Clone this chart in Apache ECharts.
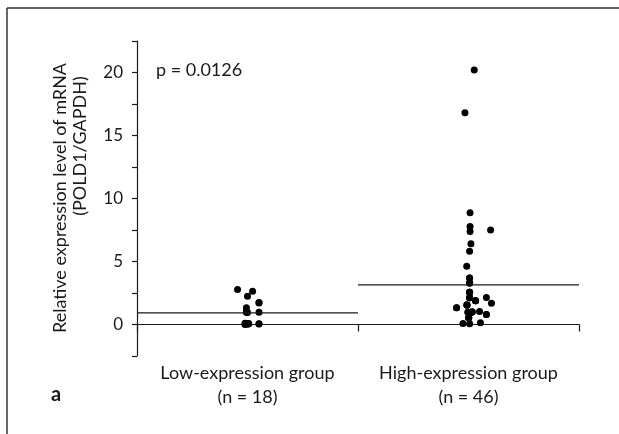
<!DOCTYPE html>
<html>
<head>
<meta charset="utf-8">
<script src="https://cdn.jsdelivr.net/npm/echarts@6/dist/echarts.min.js"></script>
<style>
  html, body { margin: 0; padding: 0; background: #fff; }
  #chart { width: 619px; height: 434px; }
</style>
</head>
<body>
<div id="chart"></div>
<script>
// Group labels shown under the x axis
const categories = ['Low-expression group\n(n = 18)', 'High-expression group\n(n = 46)'];

// Relative POLD1/GAPDH mRNA level per sample, and horizontal jitter
// (fraction of a category band) used to spread overlapping dots
const lowValues = [2.78, 2.64, 2.25, 1.75, 1.7, 1.32, 1.0, 0.98, 0.98, 0.95,
                   0.1, 0.08, 0.05, 0.05, 0.05, 0.04, 0.02, 0.0];
const lowJitter = [-0.045, 0.023, 0.0, 0.052, 0.052, -0.005, -0.005, -0.005, 0.052, 0.0,
                   -0.011, 0.005, -0.011, 0.005, 0.052, 0.052, 0.0, -0.011];

const highValues = [20.2, 16.8, 8.86, 7.78, 7.5, 7.38, 6.4, 5.82, 4.63, 3.7,
                    3.7, 3.3, 3.3, 3.3, 2.55, 2.55, 2.55, 2.14, 2.12, 2.12,
                    2.12, 1.88, 1.88, 1.88, 1.69, 1.55, 1.55, 1.55, 1.32, 1.32,
                    1.03, 1.0, 1.0, 1.0, 1.0, 0.98, 0.98, 0.98, 0.79, 0.79,
                    0.53, 0.53, 0.53, 0.13, 0.08, 0.05];
const highJitter = [0.026, -0.016, 0.007, 0.007, 0.1, 0.007, 0.011, 0.005, -0.008, 0.005,
                    0.005, 0.005, 0.005, 0.005, 0.005, 0.005, 0.005, 0.081, 0.005, 0.005,
                    0.005, 0.032, 0.032, 0.032, 0.104, -0.007, -0.007, -0.007, -0.054, -0.054,
                    0.05, 0.016, 0.016, 0.016, 0.016, -0.002, -0.002, -0.002, 0.081, 0.081,
                    0.001, 0.001, 0.001, 0.054, -0.025, 0.005];

// y axis tick labels (ticks every 2.5, labels every 5)
const yTickLabels = [0, 5, 10, 15, 20];

const yTitle = ['Relative expression level of mRNA', '(POLD1/GAPDH)'];
const pText = 'p = 0.0126';
const panelLetter = 'a';

const mean = arr => arr.reduce((s, v) => s + v, 0) / arr.length;
const toPoints = (vals, jit, centre) => vals.map((v, i) => [centre + jit[i], v]);

const FONT = 'Lato';
const INK = '#1a1a1a';

const chart = echarts.init(document.getElementById('chart'), null, { renderer: 'canvas' });

chart.setOption({
  backgroundColor: '#fff',
  animation: false,
  textStyle: { fontFamily: FONT, color: INK },
  grid: { left: 137, right: 40, top: 41, bottom: 78 },
  xAxis: [
    {
      type: 'category',
      data: categories,
      boundaryGap: true,
      axisLine: { lineStyle: { color: INK, width: 1.2 } },
      axisTick: { show: true, length: 7, lineStyle: { color: INK, width: 1.2 } },
      axisLabel: { interval: 0, hideOverlap: false, color: INK, fontSize: 18, lineHeight: 24, margin: 5, fontFamily: FONT }
    },
    {
      type: 'value', min: 0, max: 2, show: false
    }
  ],
  yAxis: {
    type: 'value',
    min: -2.5,
    max: 22.5,
    interval: 2.5,
    splitLine: { show: false },
    axisLine: { show: true, lineStyle: { color: INK, width: 1.2 } },
    axisTick: { show: true, length: 5, lineStyle: { color: INK, width: 1.2 } },
    axisLabel: {
      color: INK, fontSize: 17, margin: 14, fontFamily: FONT,
      formatter: v => (yTickLabels.includes(v) ? String(v) : '')
    }
  },
  series: [
    {
      type: 'scatter', xAxisIndex: 1,
      data: toPoints(lowValues, lowJitter, 0.5),
      symbol: 'circle', symbolSize: 7,
      itemStyle: { color: '#000', opacity: 1 }
    },
    {
      type: 'scatter', xAxisIndex: 1,
      data: toPoints(highValues, highJitter, 1.5),
      symbol: 'circle', symbolSize: 7,
      itemStyle: { color: '#000', opacity: 1 }
    },
    {
      type: 'line', xAxisIndex: 1, symbol: 'none',
      data: [[0, mean(lowValues)], [1, mean(lowValues)]],
      lineStyle: { color: INK, width: 1.3 }
    },
    {
      type: 'line', xAxisIndex: 1, symbol: 'none',
      data: [[1, mean(highValues)], [2, mean(highValues)]],
      lineStyle: { color: INK, width: 1.3 }
    }
  ],
  graphic: [
    // panel frame (top and left edges)
    { type: 'line', shape: { x1: 7, y1: 8, x2: 619, y2: 8 }, style: { stroke: '#333', lineWidth: 1.5 } },
    { type: 'line', shape: { x1: 7, y1: 8, x2: 7, y2: 434 }, style: { stroke: '#333', lineWidth: 1.5 } },
    // y axis title, two rotated lines
    { type: 'text', x: 60, y: 198, rotation: Math.PI / 2,
      style: { text: yTitle[0], fontSize: 18, fontFamily: FONT, fill: INK, align: 'center', verticalAlign: 'middle' } },
    { type: 'text', x: 80, y: 146, rotation: Math.PI / 2,
      style: { text: yTitle[1], fontSize: 18, fontFamily: FONT, fill: INK, align: 'center', verticalAlign: 'middle' } },
    { type: 'text', x: 156, y: 70,
      style: { text: pText, fontSize: 18, fontFamily: FONT, fill: INK, align: 'left', verticalAlign: 'middle' } },
    { type: 'text', x: 51, y: 395,
      style: { text: panelLetter, fontSize: 20, fontWeight: 'bold', fontFamily: FONT, fill: INK, align: 'left', verticalAlign: 'middle' } }
  ]
});
</script>
</body>
</html>
